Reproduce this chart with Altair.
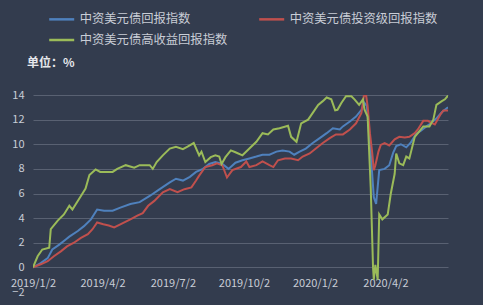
import altair as alt
import pandas as pd

names = ["中资美元债回报指数", "中资美元债投资级回报指数", "中资美元债高收益回报指数"]
colors = ["#4f81bd", "#c0504d", "#9bbb59"]

blue_dates = ["2019-01-02","2019-01-12","2019-01-21","2019-01-27","2019-02-05","2019-02-13","2019-02-18","2019-03-01","2019-03-09","2019-03-18",
              "2019-03-26","2019-04-04","2019-04-15","2019-04-25","2019-05-08","2019-05-20","2019-06-02","2019-06-15","2019-06-28","2019-07-06",
              "2019-07-15","2019-07-24","2019-08-01","2019-08-10","2019-08-18","2019-08-26","2019-09-04","2019-09-12","2019-09-21","2019-09-30",
              "2019-10-09","2019-10-18","2019-10-26","2019-11-04","2019-11-13","2019-11-21","2019-11-30","2019-12-06","2019-12-13","2019-12-21",
              "2019-12-30","2020-01-08","2020-01-17","2020-01-25","2020-02-03","2020-02-07","2020-02-16","2020-02-24","2020-03-02","2020-03-06",
              "2020-03-09","2020-03-14","2020-03-18","2020-03-21","2020-03-25","2020-04-01","2020-04-07","2020-04-12","2020-04-16","2020-04-22",
              "2020-04-29","2020-05-05","2020-05-12","2020-05-18","2020-05-25","2020-05-31","2020-06-07","2020-06-14","2020-06-22"]
blue_values = [0, 0.35, 0.75, 1.45, 1.85, 2.25, 2.5, 2.95, 3.35, 3.9,
               4.7, 4.6, 4.6, 4.85, 5.15, 5.3, 5.8, 6.35, 6.9, 7.2,
               7.05, 7.35, 7.75, 8.0, 8.4, 8.55, 8.4, 8.0, 8.5, 8.7,
               8.85, 9.0, 9.15, 9.15, 9.4, 9.5, 9.4, 9.15, 9.4, 9.65,
               10.1, 10.5, 10.9, 11.3, 11.2, 11.45, 11.85, 12.25, 12.8, 13.35,
               13.1, 9.3, 5.7, 5.15, 7.9, 8.0, 8.3, 9.3, 9.85, 10.0,
               9.75, 10.15, 10.85, 11.1, 11.45, 11.7, 12.1, 12.6, 13.0]

red_dates = ["2019-01-02","2019-01-12","2019-01-21","2019-01-29","2019-02-07","2019-02-15","2019-02-24","2019-03-05","2019-03-14","2019-03-20",
             "2019-03-26","2019-04-03","2019-04-10","2019-04-17","2019-04-25","2019-05-08","2019-05-17","2019-05-24","2019-05-31","2019-06-08",
             "2019-06-19","2019-06-28","2019-07-08","2019-07-17","2019-07-26","2019-08-01","2019-08-05","2019-08-13","2019-08-22","2019-08-28",
             "2019-09-04","2019-09-10","2019-09-17","2019-09-28","2019-10-05","2019-10-09","2019-10-18","2019-10-26","2019-11-04","2019-11-09",
             "2019-11-15","2019-11-24","2019-12-02","2019-12-11","2019-12-17","2019-12-26","2020-01-03","2020-01-12","2020-01-21","2020-01-29",
             "2020-02-07","2020-02-16","2020-02-24","2020-03-02","2020-03-05","2020-03-08","2020-03-10","2020-03-13","2020-03-16","2020-03-18",
             "2020-03-20","2020-03-24","2020-03-27","2020-04-01","2020-04-07","2020-04-14","2020-04-20","2020-04-27","2020-05-03","2020-05-10",
             "2020-05-14","2020-05-21","2020-05-27","2020-05-31","2020-06-05","2020-06-12","2020-06-16","2020-06-22"]
red_values = [0, 0.25, 0.5, 0.9, 1.3, 1.7, 2.0, 2.4, 2.7, 3.1,
              3.65, 3.5, 3.4, 3.25, 3.5, 3.9, 4.2, 4.4, 5.0, 5.4,
              6.1, 6.35, 6.1, 6.35, 6.5, 7.05, 7.45, 8.15, 8.3, 8.45,
              8.3, 7.3, 7.9, 8.15, 8.6, 8.15, 8.3, 8.6, 8.3, 8.15,
              8.7, 8.85, 8.85, 8.7, 9.0, 9.25, 9.65, 10.1, 10.5, 10.8,
              10.8, 11.2, 11.7, 12.55, 13.9, 14.0, 13.1, 10.9, 9.25, 7.9,
              8.3, 9.4, 9.95, 10.1, 9.9, 10.4, 10.6, 10.55, 10.6, 10.9,
              11.2, 11.9, 11.9, 11.75, 11.6, 12.4, 12.75, 12.75]

green_dates = ["2019-01-02","2019-01-08","2019-01-14","2019-01-23","2019-01-25","2019-02-03","2019-02-11","2019-02-18","2019-02-22","2019-03-05",
               "2019-03-11","2019-03-16","2019-03-24","2019-03-30","2019-04-08","2019-04-15","2019-04-21","2019-05-02","2019-05-13","2019-05-20",
               "2019-06-02","2019-06-06","2019-06-11","2019-06-19","2019-06-28","2019-07-06","2019-07-15","2019-07-21","2019-07-29","2019-08-05",
               "2019-08-08","2019-08-13","2019-08-20","2019-08-26","2019-08-31","2019-09-03","2019-09-08","2019-09-15","2019-09-21","2019-09-30",
               "2019-10-09","2019-10-18","2019-10-26","2019-11-02","2019-11-09","2019-11-17","2019-11-28","2019-12-02","2019-12-09","2019-12-15",
               "2019-12-24","2019-12-30","2020-01-06","2020-01-12","2020-01-17","2020-01-23","2020-01-28","2020-01-31","2020-02-05","2020-02-11",
               "2020-02-18","2020-02-22","2020-02-28","2020-03-04","2020-03-06","2020-03-10","2020-03-14","2020-03-17","2020-03-18","2020-03-20",
               "2020-03-23","2020-03-25","2020-03-29","2020-04-05","2020-04-09","2020-04-14","2020-04-16","2020-04-20","2020-04-25","2020-04-29",
               "2020-05-03","2020-05-10","2020-05-14","2020-05-21","2020-05-29","2020-06-03","2020-06-07","2020-06-14","2020-06-18","2020-06-22"]
green_values = [0, 0.9, 1.45, 1.6, 3.1, 3.8, 4.3, 5.0, 4.7, 5.8,
                6.4, 7.5, 7.95, 7.75, 7.75, 7.75, 8.0, 8.3, 8.1, 8.3,
                8.3, 8.0, 8.55, 9.1, 9.65, 9.8, 9.6, 9.8, 10.1, 9.1,
                9.4, 8.55, 8.95, 9.1, 9.0, 8.4, 8.95, 9.5, 9.35, 9.1,
                9.65, 10.2, 10.9, 10.8, 11.2, 11.3, 11.5, 10.6, 10.2, 11.7,
                12.0, 12.55, 13.2, 13.5, 13.8, 13.65, 12.75, 12.8, 13.35, 13.9,
                13.9, 13.65, 13.2, 13.65, 12.8, 12.25, 6.5, 0.0, -1.0, 0.2,
                -1.0, 4.3, 3.9, 4.3, 6.0, 7.6, 9.25, 8.45, 8.3, 9.0,
                8.85, 10.6, 10.9, 11.45, 11.45, 12.0, 13.2, 13.5, 13.65, 13.95]

y_ticks = [-2, 0, 2, 4, 6, 8, 10, 12, 14]
x_ticks = [(2019, 1, 2), (2019, 4, 2), (2019, 7, 2), (2019, 10, 2), (2020, 1, 2), (2020, 4, 2)]
x_range = [(2019, 1, 2), (2020, 6, 22)]
unit_label = "单位：%"

rows = []
for name, ds, vs in zip(names, [blue_dates, red_dates, green_dates], [blue_values, red_values, green_values]):
    for d, v in zip(ds, vs):
        rows.append({"date": d, "value": v, "series": name})
df = pd.DataFrame(rows)

FONT = "Noto Sans CJK SC"
TXT = "#c9cdd6"
GRID = "#596172"
BG = "#333c4e"

def dt(t):
    return alt.DateTime(year=t[0], month=t[1], date=t[2], utc=True)

lines = alt.Chart(df).mark_line(strokeWidth=2, clip=True).encode(
    x=alt.X("date:T",
            scale=alt.Scale(type="utc", domain=[dt(t) for t in x_range], nice=False),
            axis=alt.Axis(title=None, values=[dt(t) for t in x_ticks], format="%Y/%-m/%-d",
                          grid=False, ticks=False, domain=False, offset=-24.6,
                          labelPadding=10, labelFontSize=11, labelColor=TXT, labelFont=FONT,
                          labelOverlap=False, labelFlush=False, labelAlign="center", labelBound=False)),
    y=alt.Y("value:Q",
            scale=alt.Scale(domain=[-2, 14], nice=False, zero=False),
            axis=alt.Axis(title=None, values=y_ticks, grid=True, gridColor=GRID, gridWidth=1,
                          gridOpacity={"condition": {"test": "datum.value == -2", "value": 0}, "value": 1},
                          ticks=False, domain=False, labelPadding=9, labelFontSize=11,
                          labelColor=TXT, labelFont=FONT)),
    color=alt.Color("series:N",
                    scale=alt.Scale(domain=names, range=colors),
                    legend=alt.Legend(title=None, orient="none", legendX=14.7, legendY=-90,
                                      direction="horizontal", columns=2, columnPadding=26,
                                      rowPadding=0, symbolType="stroke", symbolSize=625,
                                      symbolStrokeWidth=2.5, labelFontSize=12.3, labelColor=TXT,
                                      labelFont=FONT, labelOffset=4, labelLimit=400)),
    order=alt.Order("date:T"),
)

unit = alt.Chart(pd.DataFrame({"t": [unit_label]})).mark_text(
    align="left", baseline="middle", fontWeight="bold", fontSize=12, color="#e6e8ec", font=FONT
).encode(text="t:N", x=alt.value(-6), y=alt.value(-32))

chart = alt.layer(lines, unit).properties(
    width=415, height=197,
    padding={"left": 33, "top": 95, "right": 35, "bottom": 13},
    autosize=alt.AutoSizeParams(type="none"),
    background=BG,
).configure_view(stroke=None)

chart.save("out.html", embed_options={"renderer": "svg", "actions": False})
